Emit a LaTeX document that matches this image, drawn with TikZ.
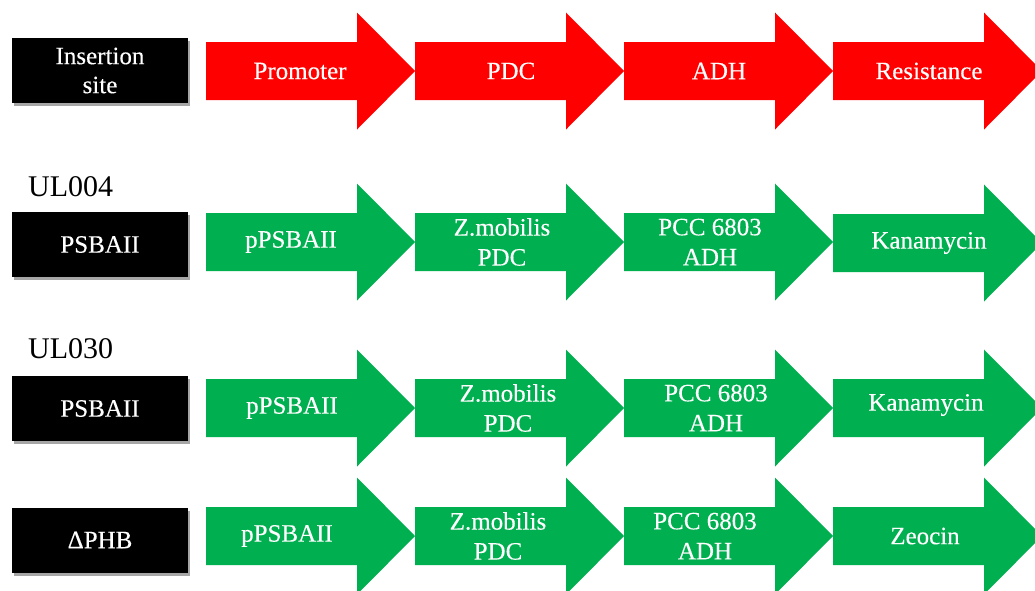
\documentclass[tikz,border=0pt]{standalone}
\usepackage{fontspec}
\setmainfont{Liberation Serif}
\newfontfamily\genefont[FakeBold=0.2]{Liberation Serif}
\usetikzlibrary{shadows}
\definecolor{genered}{HTML}{FF0000}
\definecolor{genegreen}{HTML}{00B050}
\newcommand{\genearrow}[3]{%
  \fill[#3] (#1,#2-29) -- ++(151,0) -- ++(0,-29.5) -- (#1+209,#2) -- (#1+151,#2+58.5) -- ++(0,-29.5) -- (#1,#2+29) -- cycle;}
\tikzset{
  lbl/.style={text=white, align=center, inner sep=0pt, font=\genefont\fontsize{25}{30}\selectfont},
  sitebox/.style={fill=black, minimum width=176pt, minimum height=65pt, inner sep=0pt,
    text=white, align=center, font=\genefont\fontsize{25}{29}\selectfont,
    drop shadow={shadow xshift=2pt, shadow yshift=-3pt, opacity=0.35, fill=black}},
  strain/.style={anchor=base west, inner sep=0pt, font=\fontsize{30}{34}\selectfont}
}
\begin{document}
\begin{tikzpicture}[x=1pt,y=-1pt]
\useasboundingbox (0,0) rectangle (1035,590);
\clip (0,0) rectangle (1035,590);
% Row 1 (red)
\genearrow{206}{71}{genered}
\genearrow{415}{71}{genered}
\genearrow{624}{71}{genered}
\genearrow{833}{71}{genered}
\node[sitebox] (b1) at (100,70.5) {Insertion\\site};
\node[lbl] (r1a) at (300,71) {Promoter};
\node[lbl] (r1b) at (511,71) {PDC};
\node[lbl] (r1c) at (719,71) {ADH};
\node[lbl] (r1d) at (929,71) {Resistance};
% Row 2 (UL004)
\node[strain] (ul004) at (28,196) {UL004};
\genearrow{206}{242}{genegreen}
\genearrow{415}{242}{genegreen}
\genearrow{624}{242}{genegreen}
\genearrow{833}{243}{genegreen}
\node[sitebox] (b2) at (100,244.5) {PSBAII};
\node[lbl] (r2a) at (291,242) {pPSBAII};
\node[lbl] (r2b) at (502,242) {Z.mobilis\\PDC};
\node[lbl] (r2c) at (710,242) {PCC 6803\\ADH};
\node[lbl] (r2d) at (929,243) {Kanamycin};
% Row 3 (UL030)
\node[strain] (ul030) at (28,358) {UL030};
\genearrow{206}{408}{genegreen}
\genearrow{415}{408}{genegreen}
\genearrow{624}{408}{genegreen}
\genearrow{833}{408}{genegreen}
\node[sitebox] (b3) at (100,408.5) {PSBAII};
\node[lbl] (r3a) at (292,408) {pPSBAII};
\node[lbl] (r3b) at (508,408) {Z.mobilis\\PDC};
\node[lbl] (r3c) at (716,408) {PCC 6803\\ADH};
\node[lbl] (r3d) at (926,405) {Kanamycin};
% Row 4 (delta PHB)
\genearrow{206}{536}{genegreen}
\genearrow{415}{536}{genegreen}
\genearrow{624}{536}{genegreen}
\genearrow{833}{536}{genegreen}
\node[sitebox] (b4) at (100,540) {ΔPHB};
\node[lbl] (r4a) at (287,536) {pPSBAII};
\node[lbl] (r4b) at (498,536) {Z.mobilis\\PDC};
\node[lbl] (r4c) at (705,536) {PCC 6803\\ADH};
\node[lbl] (r4d) at (925,536) {Zeocin};
\end{tikzpicture}
\end{document}
